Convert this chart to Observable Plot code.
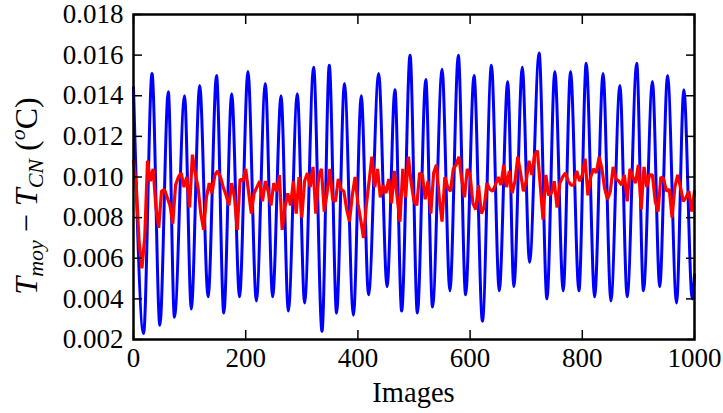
<!DOCTYPE html>
<html><head><meta charset="utf-8">
<script src="https://cdn.jsdelivr.net/npm/d3@7"></script>
<script src="https://cdn.jsdelivr.net/npm/@observablehq/plot@0.6"></script>
<style>body{margin:0;background:#fff;} svg{display:block;}</style>
</head><body><div id="chart"></div>
<script>
const xTicks = [0, 200, 400, 600, 800, 1000];
const yTicks = [0.002, 0.004, 0.006, 0.008, 0.010, 0.012, 0.014, 0.016, 0.018];

// Blue series: extrema (image index, value)
const blueImages = [0,18,33,47,62,73,91,103,118,133,148,161,175,189,204,219,235,248,263,276,292,305,321,336,349,362,376,392,406,419,437,452,466,478,493,506,521,533,550,564,579,592,607,622,638,652,667,678,693,706,723,737,751,766,779,794,807,822,837,851,867,880,897,909,925,938,952,968,981,996,1000];
const blueValues = [0.0144,0.0023,0.0151,0.0027,0.0142,0.0031,0.0140,0.0035,0.0145,0.0041,0.0150,0.0033,0.0141,0.0041,0.0152,0.0039,0.0146,0.0041,0.0140,0.0034,0.0141,0.0038,0.0154,0.0024,0.0155,0.0033,0.0146,0.0032,0.0140,0.0042,0.0151,0.0046,0.0143,0.0034,0.0160,0.0033,0.0148,0.0036,0.0153,0.0044,0.0160,0.0042,0.0150,0.0029,0.0155,0.0044,0.0147,0.0046,0.0154,0.0058,0.0161,0.0040,0.0152,0.0044,0.0152,0.0044,0.0156,0.0041,0.0151,0.0039,0.0145,0.0041,0.0156,0.0044,0.0147,0.0046,0.0150,0.0038,0.0143,0.0040,0.0052];

// Red series: one value every 5 images, from image 0 to 1000
const redStep = 5;
const redValues = [
0.0108,0.0095,0.0068,0.0055,0.0070,0.0108,0.0098,0.0104,0.0085,0.0075,
0.0093,0.0094,0.0090,0.0086,0.0077,0.0096,0.0100,0.0102,0.0095,0.0100,
0.0085,0.0111,0.0102,0.0095,0.0082,0.0074,0.0090,0.0097,0.0092,0.0101,
0.0103,0.0100,0.0095,0.0091,0.0086,0.0097,0.0090,0.0074,0.0099,0.0098,
0.0104,0.0093,0.0082,0.0092,0.0095,0.0098,0.0088,0.0098,0.0093,0.0086,
0.0097,0.0093,0.0101,0.0074,0.0085,0.0092,0.0086,0.0098,0.0082,0.0100,
0.0080,0.0098,0.0102,0.0095,0.0105,0.0082,0.0100,0.0104,0.0083,0.0092,
0.0104,0.0089,0.0088,0.0099,0.0094,0.0093,0.0084,0.0078,0.0091,0.0100,
0.0087,0.0079,0.0070,0.0086,0.0098,0.0110,0.0095,0.0104,0.0090,0.0096,
0.0092,0.0099,0.0087,0.0103,0.0090,0.0078,0.0104,0.0090,0.0110,0.0097,
0.0088,0.0086,0.0102,0.0101,0.0089,0.0098,0.0082,0.0102,0.0106,0.0090,
0.0078,0.0100,0.0095,0.0093,0.0104,0.0106,0.0110,0.0099,0.0090,0.0104,
0.0101,0.0087,0.0084,0.0096,0.0082,0.0085,0.0097,0.0094,0.0093,0.0096,
0.0100,0.0096,0.0106,0.0095,0.0103,0.0092,0.0098,0.0110,0.0102,0.0093,
0.0098,0.0108,0.0101,0.0111,0.0113,0.0096,0.0079,0.0101,0.0091,0.0092,
0.0098,0.0085,0.0097,0.0100,0.0102,0.0098,0.0096,0.0096,0.0103,0.0098,
0.0101,0.0109,0.0091,0.0100,0.0104,0.0102,0.0110,0.0104,0.0094,0.0089,
0.0093,0.0105,0.0099,0.0098,0.0096,0.0101,0.0088,0.0104,0.0100,0.0097,
0.0106,0.0084,0.0105,0.0095,0.0101,0.0101,0.0088,0.0083,0.0100,0.0099,
0.0093,0.0094,0.0080,0.0095,0.0101,0.0095,0.0088,0.0090,0.0093,0.0083,
0.0093];

const blue = blueImages.map((x, i) => ({x, y: blueValues[i]}));
const red = redValues.map((y, i) => ({x: i * redStep, y}));

const FONT = "'Liberation Serif', 'Times New Roman', serif";

const chart = Plot.plot({
  width: 723,
  height: 413,
  marginLeft: 133,
  marginRight: 29,
  marginTop: 14,
  marginBottom: 74,
  style: {fontFamily: FONT, fontSize: "27px", background: "#fff", color: "#000"},
  x: {domain: [0, 1000], ticks: xTicks, label: null},
  y: {domain: [0.002, 0.018], ticks: yTicks, label: null},
  marks: [
    Plot.line(blue, {x: "x", y: "y", stroke: "#0000ff", strokeWidth: 3, curve: "monotone-x"}),
    Plot.line(red, {x: "x", y: "y", stroke: "#ff0000", strokeWidth: 3.2, strokeLinejoin: "miter"}),
    Plot.axisX(xTicks, {anchor: "bottom", tickSize: 0, tickPadding: 8, label: null, tickFormat: d => String(d)}),
    Plot.axisY(yTicks, {anchor: "left", tickSize: 0, tickPadding: 10, label: null, tickFormat: d3.format(".3f")}),
    Plot.axisX(xTicks, {anchor: "bottom", tickSize: -9, fill: "none", label: null, strokeWidth: 1.5}),
    Plot.axisX(xTicks, {anchor: "top", tickSize: -9, fill: "none", label: null, strokeWidth: 1.5}),
    Plot.axisY(yTicks, {anchor: "left", tickSize: -9, fill: "none", label: null, strokeWidth: 1.5}),
    Plot.axisY(yTicks, {anchor: "right", tickSize: -9, fill: "none", label: null, strokeWidth: 1.5}),
    Plot.frame({stroke: "#000", strokeWidth: 2.5})
  ]
});

const svg = d3.select(chart);
svg.append("text")
  .attr("x", 413.5).attr("y", 402)
  .attr("text-anchor", "middle")
  .attr("font-family", FONT).attr("font-size", 28.5).attr("fill", "#000")
  .text("Images");

const yl = svg.append("text")
  .attr("transform", "translate(37,196) rotate(-90)")
  .attr("text-anchor", "middle")
  .attr("font-family", FONT).attr("font-size", 32).attr("fill", "#000");
yl.append("tspan").attr("font-style", "italic").text("T");
yl.append("tspan").attr("font-style", "italic").attr("font-size", 22).attr("dy", 6).text("moy");
yl.append("tspan").attr("dy", -6).text(" \u2212 ");
yl.append("tspan").attr("font-style", "italic").text("T");
yl.append("tspan").attr("font-style", "italic").attr("font-size", 22).attr("dy", 6).text("CN");
yl.append("tspan").attr("dy", -6).text(" (");
yl.append("tspan").attr("font-style", "italic").attr("font-size", 22).attr("dy", -12).text("o");
yl.append("tspan").attr("dy", 12).text("C)");

document.getElementById("chart").appendChild(chart);
</script>
</body></html>
